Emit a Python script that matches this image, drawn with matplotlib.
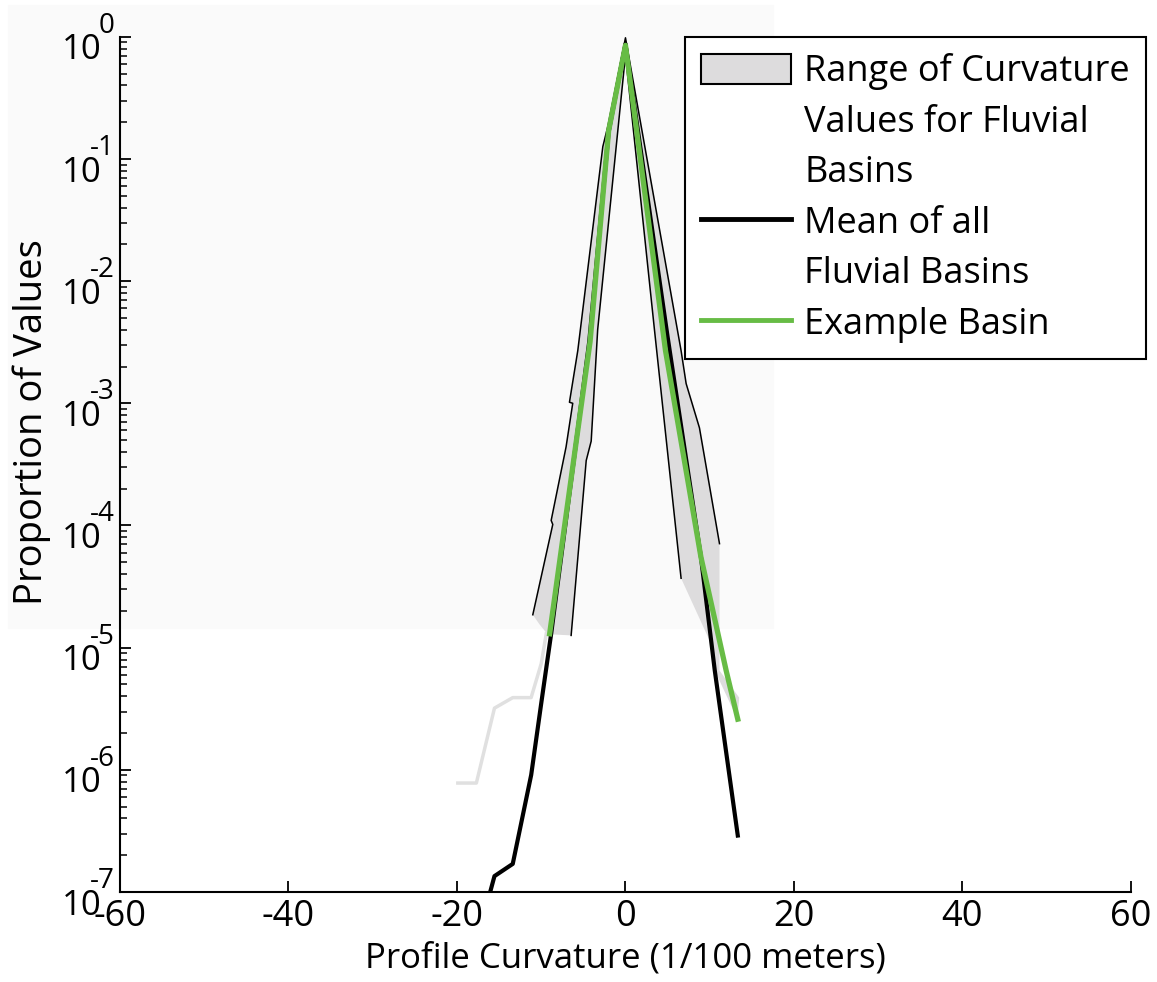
import matplotlib.pyplot as plt
import matplotlib.ticker as ticker
from matplotlib.patches import Patch, Rectangle
from matplotlib.lines import Line2D

plt.rcParams['font.family'] = ['Open Sans', 'DejaVu Sans']
plt.rcParams['axes.unicode_minus'] = False

# range of curvature values (outer / inner edges of the grey band)
range_max_x = [-11.0, -8.63, -8.82, -7.05, -6.26, -6.65, -5.66, -2.69, -2.1, 0.0,
               6.6, 7.2, 8.78, 11.16]
range_max_y = [1.86e-5, 1.02e-4, 1.1e-4, 4.4e-4, 1.0e-3, 1.02e-3, 2.7e-3, 0.126, 0.184, 0.98,
               2.7e-3, 1.45e-3, 6.3e-4, 7.1e-5]
range_min_x = [-6.45, -4.66, -4.07, -3.3, 0.0, 3.44, 6.6]
range_min_y = [1.26e-5, 3.4e-4, 4.9e-4, 4.0e-3, 0.71, 4.0e-3, 3.7e-5]
# low ends of the band, below the outlines
right_end_x = [11.16, 13.5, 13.3, 10.6, 9.97]
right_end_y = [6.5e-6, 3.9e-6, 2.6e-6, 6.5e-6, 1.15e-5]
left_end_x = [-9.26, -10.2]
left_end_y = [1.29e-5, 1.55e-5]
tail_x = [-19.9, -17.7, -15.55, -13.38, -11.2, -10.0, -9.4]
tail_y = [7.8e-7, 7.8e-7, 3.2e-6, 3.9e-6, 3.9e-6, 7.4e-6, 1.3e-5]

# mean of all fluvial basins
mean_x = [-16.06, -15.55, -13.38, -11.19, -10.0, -8.82, -4.3, -2.0, 0.0,
          5.0, 8.96, 10.6, 13.33]
mean_y = [1.0e-7, 1.35e-7, 1.7e-7, 9.1e-7, 3.5e-6, 1.3e-5, 3.2e-3, 0.166, 0.87,
          3.5e-3, 5.5e-5, 6.5e-6, 2.9e-7]

# example basin
ex_x = [-9.0, -4.2, -2.0, 0.0, 4.75, 8.96, 11.95, 13.33]
ex_y = [1.3e-5, 3.2e-3, 0.17, 0.85, 2.7e-3, 5.5e-5, 6.5e-6, 2.6e-6]

xticks = [-60, -40, -20, 0, 20, 40, 60]
decades = [0, -1, -2, -3, -4, -5, -6, -7]

band_col = '#dddcdd'
green = '#67bc45'

fig = plt.figure(figsize=(11.57, 9.82), dpi=100)
fig.patches.append(Rectangle((8 / 1157, 1 - 628 / 982), 765 / 1157, 623 / 982,
                             transform=fig.transFigure, color='#fafafa', zorder=-10))
ax = fig.add_axes([0.1037, 0.0916, 0.8738, 0.871])
ax.set_facecolor('none')

poly_x = range_max_x + right_end_x + range_min_x[::-1] + left_end_x
poly_y = range_max_y + right_end_y + range_min_y[::-1] + left_end_y
ax.fill(poly_x, poly_y, color=band_col, lw=0, zorder=1)
ax.plot(tail_x, tail_y, color='#e0e0e0', lw=2.5, zorder=1)
ax.plot(range_max_x, range_max_y, color='k', lw=1.1, zorder=2)
ax.plot(range_min_x, range_min_y, color='k', lw=1.1, zorder=2)
ax.plot(mean_x, mean_y, color='k', lw=3, zorder=3)
ax.plot(ex_x, ex_y, color=green, lw=3.8, zorder=4)

ax.set_yscale('log')
ax.set_xlim(-60, 60)
ax.set_ylim(1e-7, 1)
ax.set_xticks(xticks)
ax.set_xticklabels([str(v) for v in xticks], fontsize=26)
ax.yaxis.set_major_locator(ticker.LogLocator(base=10, numticks=20))
ax.yaxis.set_minor_locator(ticker.LogLocator(base=10, subs=range(2, 10), numticks=100))
ax.yaxis.set_major_formatter(ticker.NullFormatter())
ax.yaxis.set_minor_formatter(ticker.NullFormatter())
ax.tick_params(which='major', direction='in', length=8, width=1.3, pad=5)
ax.tick_params(which='minor', direction='in', length=5, width=1.1)
for s in ['top', 'right']:
    ax.spines[s].set_visible(False)
for s in ['left', 'bottom']:
    ax.spines[s].set_linewidth(1.5)

for k in decades:
    ax.annotate('10', xy=(0, 10.0 ** k), xycoords=('axes fraction', 'data'),
                xytext=(-13, -9.8), textcoords='offset points', ha='right', va='center',
                fontsize=25, annotation_clip=False)
    ax.annotate(str(k), xy=(0, 10.0 ** k), xycoords=('axes fraction', 'data'),
                xytext=(-3.6, 8.0), textcoords='offset points', ha='right', va='center',
                fontsize=20, annotation_clip=False)

ax.set_xlabel('Profile Curvature (1/100 meters)', fontsize=25, labelpad=5)
ax.set_ylabel('Proportion of Values', fontsize=27.5)
ax.yaxis.set_label_coords(-0.068, 0.55)

blank = Line2D([], [], alpha=0)
handles = [Patch(facecolor=band_col, edgecolor='k', lw=1.5), blank, blank,
           Line2D([], [], color='k', lw=3.5), blank,
           Line2D([], [], color=green, lw=3.5)]
labels = ['Range of Curvature', 'Values for Fluvial', 'Basins',
          'Mean of all', 'Fluvial Basins', 'Example Basin']
leg = ax.legend(handles, labels, loc='upper right', bbox_to_anchor=(0.9905, 0.9623),
                bbox_transform=fig.transFigure, fontsize=26, frameon=True, fancybox=False,
                edgecolor='k', framealpha=1, handlelength=2.5, handleheight=0.9,
                handletextpad=0.35, labelspacing=0.39, borderpad=0.45, borderaxespad=0)
leg.get_frame().set_linewidth(1.5)

fig.savefig('out.png', dpi=100)
